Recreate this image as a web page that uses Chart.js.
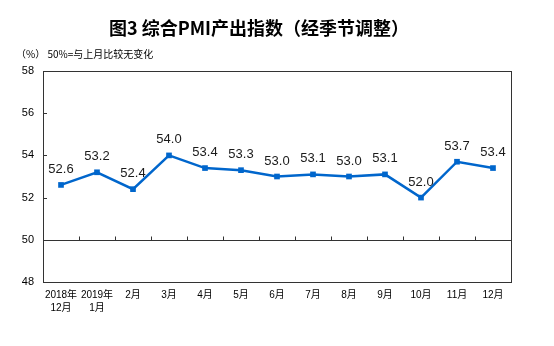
<!DOCTYPE html>
<html>
<head>
<meta charset="utf-8">
<script src="https://cdn.jsdelivr.net/npm/chart.js@4"></script>
<style>
  html, body { margin: 0; padding: 0; background: #fff; }
  #wrap { width: 554px; height: 346px; }
</style>
</head>
<body>
<div id="wrap"><canvas id="c" width="554" height="346"></canvas></div>
<script>
// data
const months = [['2018年', '12月'], ['2019年', '1月'], '2月', '3月', '4月', '5月', '6月', '7月', '8月', '9月', '10月', '11月', '12月'];
const pmiOutput = [52.6, 53.2, 52.4, 54.0, 53.4, 53.3, 53.0, 53.1, 53.0, 53.1, 52.0, 53.7, 53.4];
const yTicks = [48, 50, 52, 54, 56, 58];

const titleText = '图3 综合PMI产出指数（经季节调整）';
const noteText = '（%） 50%=与上月比较无变化';
const lineColor = '#0066CC';

// frame, 50 line with its ticks, inner y ticks, titles, value labels
const decor = {
  id: 'decor',
  afterDraw(chart) {
    const ctx = chart.ctx;
    const area = chart.chartArea;
    const x = chart.scales.x;
    const y = chart.scales.y;
    ctx.save();

    ctx.strokeStyle = '#333';
    ctx.lineWidth = 1;
    ctx.strokeRect(Math.round(area.left) + 0.5, Math.round(area.top) + 0.5,
      Math.round(area.right - area.left), Math.round(area.bottom - area.top));

    // y ticks pointing inward
    yTicks.forEach(v => {
      const py = Math.round(y.getPixelForValue(v)) + 0.5;
      ctx.beginPath();
      ctx.moveTo(area.left, py);
      ctx.lineTo(area.left + 4, py);
      ctx.stroke();
    });

    // base line at 50 with category ticks
    const base = Math.round(y.getPixelForValue(50)) + 0.5;
    ctx.beginPath();
    ctx.moveTo(area.left, base);
    ctx.lineTo(area.right, base);
    ctx.stroke();
    for (let i = 0; i < months.length - 1; i++) {
      const bx = Math.round((x.getPixelForValue(i) + x.getPixelForValue(i + 1)) / 2) + 0.5;
      ctx.beginPath();
      ctx.moveTo(bx, base);
      ctx.lineTo(bx, base - 4);
      ctx.stroke();
    }

    // value labels
    const meta = chart.getDatasetMeta(0);
    ctx.fillStyle = '#1a1a1a';
    ctx.font = '13px Arial, "Liberation Sans", sans-serif';
    ctx.textAlign = 'center';
    ctx.textBaseline = 'bottom';
    meta.data.forEach((pt, i) => {
      ctx.fillText(pmiOutput[i].toFixed(1), pt.x, pt.y - 9);
    });

    // title and note
    ctx.fillStyle = '#000';
    ctx.textBaseline = 'middle';
    ctx.font = 'bold 18px "Noto Sans CJK SC", sans-serif';
    ctx.fillText(titleText, 259, 28);
    ctx.textAlign = 'left';
    ctx.font = '10px "Noto Sans CJK SC", sans-serif';
    ctx.fillText(noteText, 16, 54);
    ctx.restore();
  }
};

new Chart(document.getElementById('c'), {
  type: 'line',
  data: {
    labels: months,
    datasets: [{
      data: pmiOutput,
      borderColor: lineColor,
      backgroundColor: lineColor,
      borderWidth: 2.5,
      pointStyle: 'rect',
      pointRadius: 4,
      pointBorderWidth: 0,
      tension: 0
    }]
  },
  options: {
    responsive: false,
    animation: false,
    layout: { padding: { top: 71, right: 43, bottom: 0, left: 0 } },
    plugins: { legend: { display: false }, tooltip: { enabled: false } },
    scales: {
      x: {
        offset: true,
        grid: { display: false, drawTicks: false },
        border: { display: false },
        ticks: {
          color: '#000',
          padding: 7,
          maxRotation: 0,
          autoSkip: false,
          font: { family: 'Arial, "Noto Sans CJK SC", sans-serif', size: 10, lineHeight: 1.3 }
        },
        afterFit(s) { s.height = 64; }
      },
      y: {
        min: 48,
        max: 58,
        grid: { display: false, drawTicks: false },
        border: { display: false },
        afterBuildTicks(s) { s.ticks = yTicks.map(v => ({ value: v })); },
        ticks: {
          color: '#000',
          padding: 9,
          font: { family: '"Liberation Sans Narrow", Arial, sans-serif', size: 11 }
        },
        afterFit(s) { s.width = 43; }
      }
    }
  },
  plugins: [decor]
});
</script>
</body>
</html>
